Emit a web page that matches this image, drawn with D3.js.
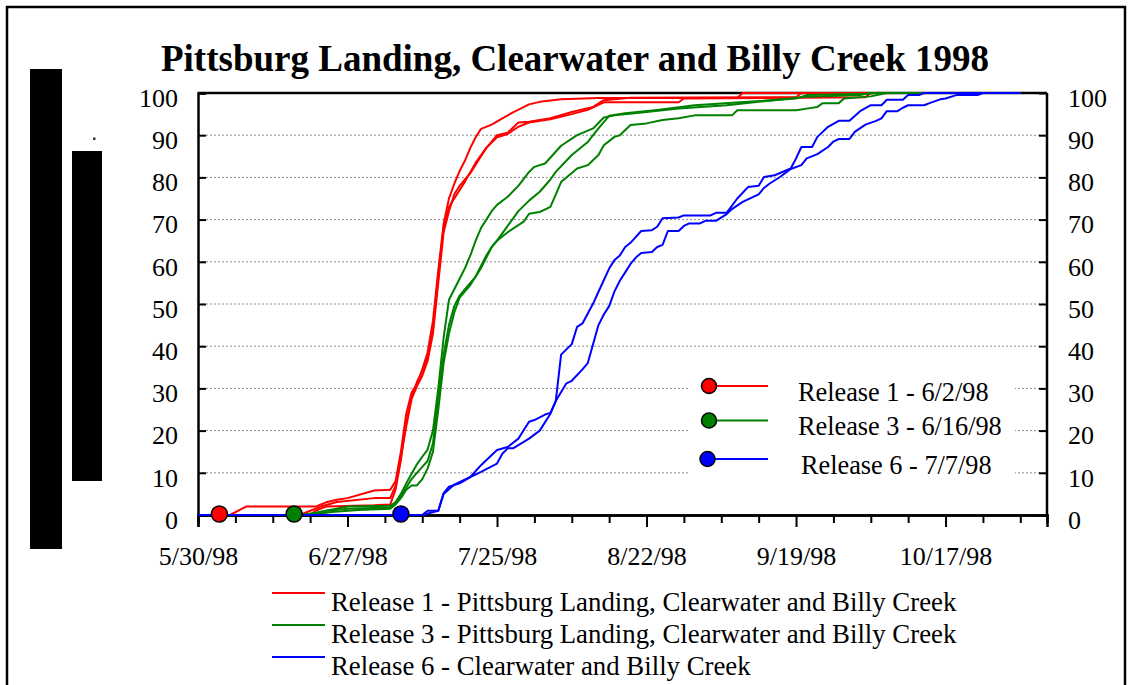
<!DOCTYPE html>
<html><head><meta charset="utf-8">
<script src="https://cdn.jsdelivr.net/npm/d3@7"></script>
<style>
body{margin:0;background:#fff}
svg{display:block}
text{font-family:"Liberation Serif","Times New Roman",serif;fill:#000}
</style>
</head><body>
<svg id="chart" width="1131" height="685"></svg>
<script>
// ---------- data ----------
const titleText = "Pittsburg Landing, Clearwater and Billy Creek 1998";
const xDomain = ["5/30/98", "11/5/98"];
const xTickLabels = ["5/30/98", "6/27/98", "7/25/98", "8/22/98", "9/19/98", "10/17/98"];
const yTicks = [0, 10, 20, 30, 40, 50, 60, 70, 80, 90, 100];

// Release 1 (three lines)
const r1a = [["5/30",0],["6/5",0],["6/8",2],["6/21",2],["6/23",3],["6/25",3.6],["6/27",4],["7/2",5.8],["7/5",6],["7/6",8],["7/7",15],["7/8",24],["7/9",29],["7/10",31],["7/11",34.5],["7/12",38.5],["7/13",46],["7/14",58],["7/15",69],["7/16",75],["7/17",78.5],["7/18",81.5],["7/19",84],["7/20",87],["7/21",89.5],["7/22",91.5],["7/24",92.5],["7/26",94],["7/28",95.4],["7/31",97.3],["8/2",97.9],["8/6",98.5],["8/13",98.8],["9/8",98.8],["9/9",100],["10/31",100]];
const r1b = [["5/30",0],["6/18",0],["6/22",2],["6/25",3.1],["7/2",4],["7/5",4],["7/6",7],["7/7",14],["7/8",21],["7/9",27.5],["7/10",30.5],["7/11",33],["7/12",36.5],["7/13",43],["7/14",55],["7/15",67],["7/16",72],["7/17",76],["7/18",78],["7/19",79.5],["7/20",81],["7/21",83],["7/22",85],["7/23",87],["7/24",88.5],["7/25",90],["7/27",90.6],["7/29",93],["7/31",93.2],["8/4",94],["8/8",95.5],["8/12",96.7],["8/14",98.3],["8/19",98.9],["9/19",99],["9/20",100],["10/31",100]];
const r1c = [["5/30",0],["6/20",0],["6/21",1],["6/23",2],["7/2",2.3],["7/5",2.5],["7/6",6],["7/7",13],["7/8",22],["7/9",28],["7/10",31.5],["7/11",34],["7/12",37.5],["7/13",44],["7/14",57],["7/15",68],["7/16",73],["7/17",75],["7/19",79],["7/21",83.5],["7/23",87],["7/25",89.5],["7/27",90.3],["7/29",92],["7/31",93],["8/4",93.8],["8/8",95],["8/11",96],["8/14",97.8],["8/28",97.8],["8/29",98.7],["10/2",99],["10/3",100],["10/31",100]];

// Release 3 (three lines)
const r3a = [["5/30",0],["6/18",0],["6/21",0.5],["6/27",2],["7/5",2.2],["7/6",3],["7/7",5],["7/8",7.5],["7/9",9.8],["7/10",12],["7/11",13.8],["7/12",15.5],["7/13",20],["7/14",30],["7/15",42],["7/16",51],["7/17",53.5],["7/18",56],["7/19",58.5],["7/20",61.5],["7/21",65],["7/22",68],["7/23",70],["7/24",72],["7/25",73.5],["7/27",75.4],["7/29",78],["7/31",81.3],["8/1",82.5],["8/3",83.3],["8/6",87.5],["8/9",90],["8/12",91.6],["8/14",94.2],["8/16",94.7],["8/22",95.5],["8/28",96.3],["9/6",97.1],["9/12",97.9],["9/21",99.1],["10/1",99.5],["10/3",100],["10/31",100]];
const r3b = [["5/30",0],["6/19",0],["6/23",1],["6/27",1.5],["7/5",1.8],["7/6",3],["7/7",4.5],["7/8",6.5],["7/9",8.5],["7/10",10],["7/11",11.4],["7/12",12.8],["7/13",17],["7/14",28],["7/15",38],["7/16",45],["7/17",49.5],["7/18",52],["7/19",53.5],["7/20",55],["7/21",56.5],["7/22",59],["7/23",61.5],["7/24",63.5],["7/25",65],["7/27",68.5],["7/29",72],["7/31",74.5],["8/2",76.6],["8/4",79.5],["8/5",81.3],["8/8",85.3],["8/11",88.4],["8/13",91.6],["8/15",94.6],["8/18",95.2],["8/24",96],["8/31",97.1],["9/10",97.9],["9/19",98.7],["9/21",99.5],["10/2",99.8],["10/4",100],["10/31",100]];
const r3c = [["5/30",0],["6/20",0],["6/24",0.7],["6/29",1.2],["7/5",1.5],["7/6",2.5],["7/7",4],["7/8",6],["7/9",7],["7/10",7],["7/11",8.5],["7/12",11],["7/13",15],["7/14",25],["7/15",36],["7/16",43],["7/17",48],["7/18",51.5],["7/19",53],["7/20",54.5],["7/21",56.5],["7/22",58.5],["7/23",61],["7/24",63.5],["7/25",65],["7/27",67],["7/30",69.5],["7/31",71.4],["8/2",71.8],["8/4",73],["8/6",78.9],["8/9",82.1],["8/11",82.9],["8/13",85.3],["8/14",87.6],["8/16",89.6],["8/17",90],["8/19",92.4],["8/22",92.8],["8/25",93.6],["8/28",94],["8/31",94.7],["9/7",94.7],["9/8",95.9],["9/19",95.9],["9/21",96.3],["9/23",96.7],["9/24",97.6],["9/27",97.6],["9/28",98.7],["10/3",99.2],["10/6",100],["10/31",100]];

// Release 6 (two lines)
const r6a = [["5/30",0],["7/11",0],["7/12",1],["7/14",1],["7/15",5.2],["7/16",6.7],["7/18",7.5],["7/20",9],["7/22",11.8],["7/25",15.4],["7/27",16.1],["7/29",18.1],["7/31",22.1],["8/1",22.5],["8/3",23.8],["8/4",24.2],["8/5",27],["8/6",38],["8/8",40.5],["8/9",44.6],["8/10",45.4],["8/12",50.1],["8/13",52.9],["8/15",58.4],["8/16",60.4],["8/17",61.5],["8/18",63.5],["8/19",64.5],["8/21",67.3],["8/23",67.5],["8/24",68.3],["8/25",70.3],["8/28",70.5],["8/29",71],["9/3",71],["9/4",71.6],["9/6",71.6],["9/8",75],["9/10",77.7],["9/12",78],["9/13",80.1],["9/15",80.5],["9/18",82.1],["9/19",84.5],["9/20",87.2],["9/22",87.2],["9/23",89.6],["9/25",92],["9/27",93.4],["9/29",93.4],["10/1",95.7],["10/3",97.1],["10/5",97.1],["10/6",98.4],["10/9",98.4],["10/10",99.5],["10/12",99.5],["10/13",100],["10/31",100]];
const r6b = [["5/30",0],["7/11",0],["7/14",1],["7/15",5],["7/17",7.2],["7/20",9],["7/22",10.2],["7/25",12.2],["7/26",14.5],["7/27",15.8],["7/28",15.8],["7/31",18.1],["8/2",20],["8/4",24],["8/5",27],["8/7",31.2],["8/8",31.8],["8/10",34.5],["8/11",36],["8/12",40.5],["8/13",45],["8/14",47.5],["8/15",49.5],["8/16",53],["8/17",55.5],["8/18",57.5],["8/19",59.5],["8/20",61],["8/21",62.1],["8/23",62.3],["8/24",63.5],["8/25",64],["8/26",67.3],["8/28",67.3],["8/29",68.5],["8/30",69.1],["9/1",69.1],["9/2",69.7],["9/4",69.7],["9/6",71.3],["9/7",72.5],["9/9",74.2],["9/12",76],["9/13",77.5],["9/14",78.5],["9/16",80.1],["9/18",82],["9/20",82.9],["9/21",84.5],["9/23",85.5],["9/25",87.2],["9/26",88.5],["9/27",89.1],["9/29",89.1],["9/30",90.8],["10/2",92.5],["10/4",93.4],["10/5",94],["10/6",95.7],["10/8",95.7],["10/9",96.5],["10/10",97.1],["10/13",97.1],["10/14",97.6],["10/16",98.5],["10/17",98.7],["10/19",99.5],["10/23",99.5],["10/24",100],["10/31",100]];

const releaseColors = ["#ff0000", "#008000", "#0000ff"];
const markerDates = ["6/3/98", "6/17/98", "7/7/98"];
const insideLegend = ["Release 1 - 6/2/98", "Release 3 - 6/16/98", "Release 6 - 7/7/98"];
const bottomLegend = ["Release 1 - Pittsburg Landing, Clearwater and Billy Creek",
                      "Release 3 - Pittsburg Landing, Clearwater and Billy Creek",
                      "Release 6 - Clearwater and Billy Creek"];

// ---------- drawing ----------
const svg = d3.select("#chart");
const parse = d3.timeParse("%m/%d/%y");
const pd = s => parse(s.split("/").length === 3 ? s : s + "/98");

const L = 198, R = 1047, T = 93, B = 515;
const x = d3.scaleTime().domain(xDomain.map(pd)).range([L, R]);
const y = d3.scaleLinear().domain([0, 100]).range([B, T]);

// outer frame
svg.append("rect").attr("x", 7).attr("y", 7).attr("width", 1118).attr("height", 700)
  .attr("fill", "none").attr("stroke", "#000").attr("stroke-width", 2.5);

// black bars on the left
svg.append("rect").attr("x", 30).attr("y", 69).attr("width", 32).attr("height", 480).attr("fill", "#000");
svg.append("rect").attr("x", 72).attr("y", 151).attr("width", 30).attr("height", 330).attr("fill", "#000");
svg.append("rect").attr("x", 93).attr("y", 137.5).attr("width", 2.5).attr("height", 2.5).attr("fill", "#333");

// title
svg.append("text").attr("x", 575).attr("y", 71).attr("text-anchor", "middle")
  .style("font-size", "37px").style("font-weight", "bold").text(titleText);

// gridlines
svg.append("g").selectAll("line").data(yTicks.filter(v => v > 0 && v < 100)).join("line")
  .attr("x1", L).attr("x2", R).attr("y1", d => y(d)).attr("y2", d => y(d))
  .attr("stroke", "#8a8a8a").attr("stroke-width", 1).attr("stroke-dasharray", "2,2");

// legend box (white) inside plot
svg.append("rect").attr("x", 688).attr("y", 368).attr("width", 327).attr("height", 122).attr("fill", "#fff");

// plot border (top/right)
svg.append("line").attr("x1", L).attr("x2", R).attr("y1", T).attr("y2", T).attr("stroke", "#000").attr("stroke-width", 2.5);
svg.append("line").attr("x1", R).attr("x2", R).attr("y1", T).attr("y2", B).attr("stroke", "#000").attr("stroke-width", 2.5);

// y axes
const yl = svg.append("g").attr("transform", `translate(${L},0)`)
  .call(d3.axisLeft(y).tickValues(yTicks).tickSize(-8).tickPadding(20).tickFormat(d3.format("d")));
const yr = svg.append("g").attr("transform", `translate(${R},0)`)
  .call(d3.axisRight(y).tickValues(yTicks).tickSize(-8).tickPadding(21).tickFormat(d3.format("d")));
[yl, yr].forEach(g => {
  g.select(".domain").attr("stroke", "#000").attr("stroke-width", 2.5);
  g.selectAll(".tick line").attr("stroke", "#000").attr("stroke-width", 2);
  g.selectAll(".tick text").style("font-size", "26px").attr("dy", "0.36em").attr("y", 4);
});
yr.select(".domain").remove();

// x axis: weekly minor ticks and 4-weekly labelled ticks
const start = pd(xDomain[0]), end = pd(xDomain[1]);
const weekly = d3.range(0, 200, 7).map(d => d3.timeDay.offset(start, d)).filter(d => d < end);
const majors = xTickLabels.map(pd);
const majorSet = new Set(majors.map(d => +d));
const xMinor = svg.append("g").attr("transform", `translate(0,${B})`)
  .call(d3.axisBottom(x).tickValues(weekly.filter(d => !majorSet.has(+d))).tickSize(8).tickFormat(""));
const xMajor = svg.append("g").attr("transform", `translate(0,${B})`)
  .call(d3.axisBottom(x).tickValues(majors).tickSize(12).tickPadding(20).tickFormat((d, i) => xTickLabels[i]));
[xMinor, xMajor].forEach(g => {
  g.select(".domain").attr("stroke", "#000").attr("stroke-width", 2.5);
  g.selectAll(".tick line").attr("stroke", "#000").attr("stroke-width", 2);
  g.selectAll(".tick text").style("font-size", "26px");
});

// series lines
const line = d3.line().x(d => x(pd(d[0]))).y(d => y(d[1]));
const groups = [[r1a, r1b, r1c], [r3a, r3b, r3c], [r6a, r6b]];
groups.forEach((grp, gi) => {
  svg.append("g").selectAll("path").data(grp).join("path")
    .attr("d", line).attr("fill", "none").attr("stroke", releaseColors[gi])
    .attr("stroke-width", 2).attr("stroke-linejoin", "round");
});

// release markers on x axis
svg.append("g").selectAll("circle").data(markerDates).join("circle")
  .attr("cx", d => x(pd(d))).attr("cy", y(0) - 1).attr("r", 8)
  .attr("fill", (d, i) => releaseColors[i]).attr("stroke", "#000").attr("stroke-width", 1.5);

// inside legend
const legRowsY = [386, 420.5, 459];
const leg = svg.append("g");
insideLegend.forEach((t, i) => {
  leg.append("line").attr("x1", 712).attr("x2", 768).attr("y1", legRowsY[i]).attr("y2", legRowsY[i])
    .attr("stroke", releaseColors[i]).attr("stroke-width", 2);
  leg.append("circle").attr("cx", 709 - (i === 2 ? 1.5 : 0)).attr("cy", legRowsY[i]).attr("r", 7.5)
    .attr("fill", releaseColors[i]).attr("stroke", "#000").attr("stroke-width", 1.5);
  leg.append("text").attr("x", i === 2 ? 801 : 798).attr("y", legRowsY[i] + 14.5)
    .style("font-size", "26.3px").text(t);
});

// bottom legend
const botY = [593, 625, 657];
bottomLegend.forEach((t, i) => {
  svg.append("line").attr("x1", 272).attr("x2", 325).attr("y1", botY[i]).attr("y2", botY[i])
    .attr("stroke", releaseColors[i]).attr("stroke-width", 2);
  svg.append("text").attr("x", 331).attr("y", botY[i] + 18).style("font-size", "26.8px").text(t);
});
</script>
</body></html>
